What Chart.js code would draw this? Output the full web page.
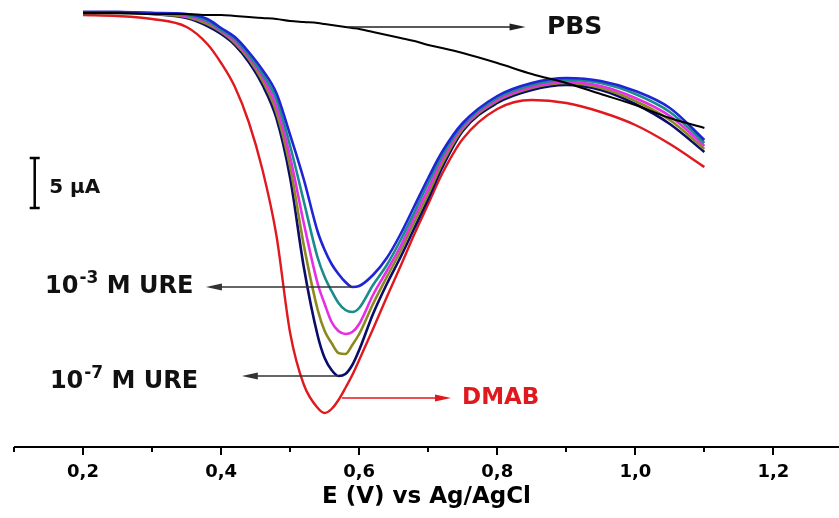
<!DOCTYPE html>
<html>
<head>
<meta charset="utf-8">
<script src="https://cdn.jsdelivr.net/npm/chart.js@4.4.1/dist/chart.umd.min.js"></script>
<style>
  html, body { margin: 0; padding: 0; background: #fff; }
</style>
</head>
<body>
<canvas id="dpvChart" width="839" height="518"></canvas>
<script>
// potential (V vs Ag/AgCl), shared by every scan
const potentials = [0.20, 0.25, 0.30, 0.35, 0.38, 0.40, 0.42, 0.44, 0.46, 0.48, 0.50, 0.52, 0.54, 0.55, 0.56, 0.57, 0.58, 0.59, 0.60, 0.62, 0.64, 0.66, 0.68, 0.70, 0.72, 0.75, 0.80, 0.85, 0.90, 0.95, 1.00, 1.05, 1.10];

// current in µA (offset is arbitrary, only the 5 µA bar gives the scale)
const pbs    = [43.4, 43.4, 43.3, 43.3, 43.2, 43.2, 43.1, 43.0, 42.9, 42.8, 42.6, 42.5, 42.4, 42.3, 42.2, 42.1, 42.0, 41.9, 41.8, 41.5, 41.2, 40.9, 40.6, 40.2, 39.9, 39.4, 38.4, 37.3, 36.4, 35.3, 34.2, 32.9, 31.9];
const dmab   = [43.2, 43.1, 42.8, 42.0, 40.3, 38.4, 36.0, 32.5, 27.7, 21.2, 11.4, 6.2, 3.9, 3.4, 3.8, 4.7, 5.9, 7.2, 8.7, 11.8, 15.0, 18.1, 21.3, 24.3, 27.3, 30.8, 33.8, 34.7, 34.4, 33.5, 32.2, 30.3, 28.0];
const ure1e7 = [43.4, 43.4, 43.3, 42.9, 42.1, 41.3, 40.2, 38.5, 36.2, 32.9, 26.9, 17.9, 11.1, 8.9, 7.7, 7.1, 7.3, 8.2, 9.7, 13.3, 16.3, 19.0, 21.9, 24.8, 27.9, 31.6, 34.4, 35.7, 36.2, 35.7, 34.3, 32.3, 29.5];
const ure1e6 = [43.4, 43.4, 43.3, 43.0, 42.3, 41.5, 40.4, 38.8, 36.6, 33.5, 28.0, 20.1, 13.7, 11.6, 10.4, 9.4, 9.3, 10.2, 11.3, 14.3, 17.0, 19.6, 22.5, 25.3, 28.3, 31.8, 34.6, 35.9, 36.4, 35.9, 34.6, 32.7, 29.8];
const ure1e5 = [43.5, 43.5, 43.4, 43.1, 42.5, 41.6, 40.6, 39.0, 37.0, 34.1, 29.0, 22.3, 16.3, 14.3, 12.5, 11.6, 11.3, 11.5, 12.3, 15.2, 17.6, 20.1, 23.0, 25.8, 28.7, 32.0, 34.7, 36.0, 36.5, 36.1, 34.9, 33.1, 30.1];
const ure1e4 = [43.5, 43.5, 43.4, 43.2, 42.6, 41.7, 40.8, 39.2, 37.3, 34.8, 30.1, 24.5, 18.9, 17.0, 15.6, 14.4, 13.7, 13.5, 13.9, 16.2, 18.2, 20.7, 23.5, 26.4, 29.1, 32.2, 34.9, 36.2, 36.7, 36.4, 35.3, 33.5, 30.4];
const ure1e3 = [43.5, 43.5, 43.4, 43.3, 42.8, 41.9, 41.0, 39.5, 37.7, 35.4, 31.2, 26.7, 21.5, 19.7, 18.3, 17.3, 16.5, 16.0, 16.1, 17.2, 18.9, 21.3, 24.1, 26.9, 29.5, 32.4, 35.1, 36.4, 36.9, 36.6, 35.6, 33.9, 30.7];

const xTicks = [0.1, 0.2, 0.3, 0.4, 0.5, 0.6, 0.7, 0.8, 0.9, 1.0, 1.1, 1.2];

const FONT = '"DejaVu Sans", "Liberation Sans", Arial, sans-serif';

function toPoints(values) {
    return values.map((v, i) => ({ x: potentials[i], y: v }));
}

function minIndex(values) {
    let k = 0;
    values.forEach((v, i) => { if (v < values[k]) k = i; });
    return k;
}

function arrow(ctx, x1, x2, yy, color) {
    const dir = Math.sign(x2 - x1);
    ctx.save();
    ctx.strokeStyle = color;
    ctx.fillStyle = color;
    ctx.lineWidth = 1.3;
    ctx.beginPath();
    ctx.moveTo(x1, yy);
    ctx.lineTo(x2 - dir * 8, yy);
    ctx.stroke();
    ctx.beginPath();
    ctx.moveTo(x2, yy);
    ctx.lineTo(x2 - dir * 16, yy - 3.5);
    ctx.lineTo(x2 - dir * 16, yy + 3.5);
    ctx.closePath();
    ctx.fill();
    ctx.restore();
}

function ureLabel(ctx, left, base, exp) {
    ctx.save();
    ctx.fillStyle = '#111';
    ctx.textBaseline = 'alphabetic';
    ctx.textAlign = 'left';
    ctx.font = 'bold 24px ' + FONT;
    ctx.fillText('10', left, base);
    let cx = left + ctx.measureText('10').width + 1;
    ctx.font = 'bold 17px ' + FONT;
    ctx.fillText(exp, cx, base - 10);
    cx += ctx.measureText(exp).width;
    ctx.font = 'bold 24px ' + FONT;
    ctx.fillText(' M URE', cx, base);
    ctx.restore();
}

const annotations = {
    id: 'annotations',
    afterDatasetsDraw(chart) {
        const { ctx } = chart;
        const x = chart.scales.x, y = chart.scales.y;
        const X = v => x.getPixelForValue(v);
        const Y = v => y.getPixelForValue(v);

        // x axis line and tick marks
        ctx.save();
        ctx.strokeStyle = '#000';
        ctx.lineWidth = 2;
        ctx.beginPath();
        ctx.moveTo(x.left, x.top);
        ctx.lineTo(x.right, x.top);
        ctx.stroke();
        xTicks.forEach(v => {
            const major = Math.round(v * 10) % 2 === 0;
            const px = Math.round(X(v));
            ctx.beginPath();
            ctx.moveTo(px, x.top);
            ctx.lineTo(px, x.top + (major ? 8 : 5));
            ctx.stroke();
        });
        ctx.restore();

        // PBS
        arrow(ctx, X(0.583), X(0.841), Y(42.0), '#222');
        ctx.save();
        ctx.fillStyle = '#111';
        ctx.font = 'bold 25px ' + FONT;
        ctx.textBaseline = 'middle';
        ctx.fillText('PBS', X(0.872), Y(42.0));
        ctx.restore();

        // 10^-3 M URE -> bottom of highest concentration
        const k3 = minIndex(ure1e3);
        arrow(ctx, X(potentials[k3]), X(0.378), Y(ure1e3[k3]), '#333');
        ureLabel(ctx, X(0.145), Y(15.4), '-3');

        // 10^-7 M URE -> bottom of lowest concentration
        const k7 = minIndex(ure1e7);
        arrow(ctx, X(potentials[k7]), X(0.430), Y(ure1e7[k7]), '#333');
        ureLabel(ctx, X(0.152), Y(5.9), '-7');

        // DMAB
        arrow(ctx, X(0.575), X(0.733), Y(4.9), '#e0191f');
        ctx.save();
        ctx.fillStyle = '#e0191f';
        ctx.font = 'bold 23px ' + FONT;
        ctx.textBaseline = 'middle';
        ctx.fillText('DMAB', X(0.749), Y(4.9));
        ctx.restore();

        // 5 µA scale bar
        const bx = X(0.130);
        ctx.save();
        ctx.strokeStyle = '#000';
        ctx.lineWidth = 2.5;
        ctx.beginPath();
        ctx.moveTo(bx, Y(28.9));
        ctx.lineTo(bx, Y(23.9));
        ctx.moveTo(bx - 5, Y(28.9));
        ctx.lineTo(bx + 5, Y(28.9));
        ctx.moveTo(bx - 5, Y(23.9));
        ctx.lineTo(bx + 5, Y(23.9));
        ctx.stroke();
        ctx.fillStyle = '#111';
        ctx.font = 'bold 20px ' + FONT;
        ctx.textBaseline = 'middle';
        ctx.fillText('5 \u03bcA', X(0.151), Y(25.9));
        ctx.restore();
    }
};

function curve(data, color, width) {
    return {
        data: toPoints(data),
        borderColor: color,
        borderWidth: width,
        pointRadius: 0,
        fill: false,
        cubicInterpolationMode: 'monotone'
    };
}

const ctx = document.getElementById('dpvChart').getContext('2d');
const chart = new Chart(ctx, {
    type: 'line',
    data: {
        datasets: [
            curve(pbs, '#000000', 2),
            curve(ure1e3, '#1f24d6', 2.6),
            curve(ure1e4, '#1a8c8c', 2.6),
            curve(ure1e5, '#e62ee6', 2.6),
            curve(ure1e6, '#8c8a1e', 2.6),
            curve(ure1e7, '#0b0b6b', 2.6),
            curve(dmab, '#e0191f', 2.4)
        ]
    },
    options: {
        responsive: false,
        animation: false,
        devicePixelRatio: 1,
        layout: { padding: { left: 14, right: 0, top: 0, bottom: 0 } },
        scales: {
            x: {
                type: 'linear',
                min: 0.1,
                max: 1.295,
                grid: { display: false },
                border: { display: false },
                afterBuildTicks: s => { s.ticks = xTicks.map(v => ({ value: v })); },
                ticks: {
                    autoSkip: false,
                    maxRotation: 0,
                    padding: 7,
                    color: '#000',
                    font: { family: FONT, weight: 'bold', size: 18 },
                    callback: v => {
                        const t = Math.round(v * 10);
                        return t % 2 === 0 ? (t / 10).toFixed(1).replace('.', ',') : '';
                    }
                },
                title: {
                    display: true,
                    text: 'E (V) vs Ag/AgCl',
                    color: '#000',
                    font: { family: FONT, weight: 'bold', size: 23 },
                    padding: { top: 0, bottom: 7 }
                },
                afterFit: s => { s.height = 71; }
            },
            y: {
                type: 'linear',
                display: false,
                min: 0,
                max: 44.7
            }
        },
        plugins: {
            legend: { display: false },
            tooltip: { enabled: false }
        }
    },
    plugins: [annotations]
});
</script>
</body>
</html>
